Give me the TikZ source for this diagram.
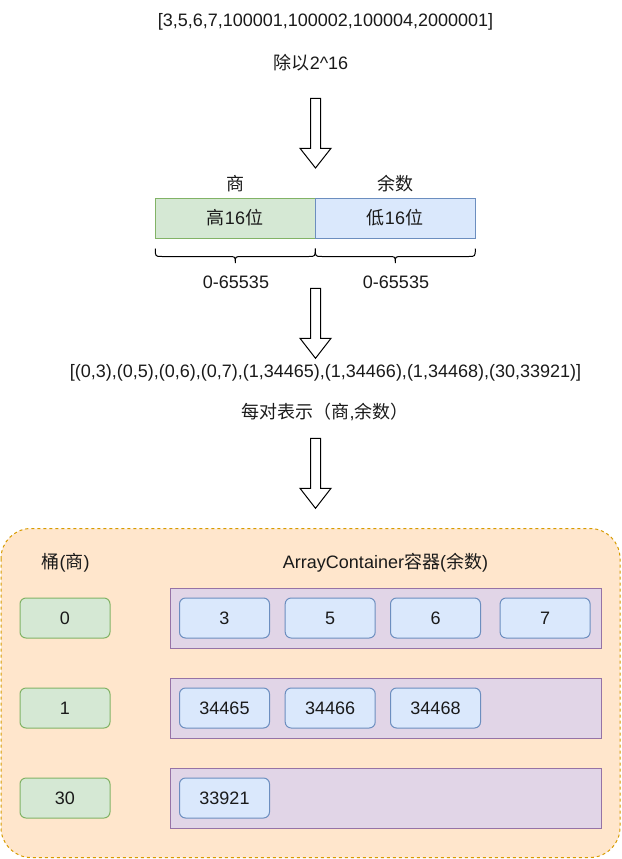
\documentclass[tikz,border=0pt]{standalone}
\usepackage{fontspec}
\setmainfont{Liberation Sans}
\newfontfamily\cjk{Noto Sans CJK SC}
\definecolor{gfill}{HTML}{D5E8D4}
\definecolor{gline}{HTML}{82B366}
\definecolor{bfill}{HTML}{DAE8FC}
\definecolor{bline}{HTML}{6C8EBF}
\definecolor{pfill}{HTML}{E1D5E7}
\definecolor{pline}{HTML}{9673A6}
\definecolor{ofill}{HTML}{FFE6CC}
\definecolor{oline}{HTML}{D79B00}
\definecolor{ink}{HTML}{1A1A1A}
\newcommand{\fsz}{\fontsize{18pt}{21.6pt}\selectfont}
\begin{document}
\begin{tikzpicture}[x=1pt,y=-1pt,
  txt/.style={font=\fsz, text=ink, inner sep=0pt},
  topbox/.style={txt, draw, line width=1pt, minimum width=160pt, minimum height=40pt},
  gbox/.style={txt, draw=gline, fill=gfill, line width=1pt, rounded corners=6pt, minimum width=90pt, minimum height=40pt},
  bbox/.style={txt, draw=bline, fill=bfill, line width=1pt, rounded corners=6pt, minimum width=90pt, minimum height=40pt},
  cont/.style={draw=pline, fill=pfill, line width=1pt, minimum width=431pt, minimum height=60pt, inner sep=0pt},
  blockarrow/.style={draw=black, fill=white, line width=1pt, line join=miter},
  bracepath/.style={draw=black, line width=1pt}
]
\useasboundingbox (0,0) rectangle (621,859);

% top texts
\node[txt] (list1) at (325.5,22) {[3,5,6,7,100001,100002,100004,2000001]};
\node[txt] (div) at (311,63) {{\cjk 除以}2\textasciicircum 16};

% arrow 1
\draw[blockarrow] (310.6,98.3) -- (320.6,98.3) -- (320.6,148.3) -- (331,148.3) -- (315.5,168) -- (300,148.3) -- (310.6,148.3) -- cycle;

% split box
\node[txt] (shang) at (235,183.5) {\cjk 商};
\node[txt] (yushu) at (395,183.5) {\cjk 余数};
\node[topbox, draw=gline, fill=gfill] (high) at (235,218) {{\cjk 高}16{\cjk 位}};
\node[topbox, draw=bline, fill=bfill] (low) at (395,218) {{\cjk 低}16{\cjk 位}};

% braces
\draw[bracepath] (155.3,248.5) .. controls (155.3,256.5) .. (162,256.5) -- (228.5,256.5) .. controls (235.3,256.5) .. (235.3,263) .. controls (235.3,256.5) .. (242,256.5) -- (308.5,256.5) .. controls (315.3,256.5) .. (315.3,248.5);
\draw[bracepath] (315.3,248.5) .. controls (315.3,256.5) .. (322,256.5) -- (388.5,256.5) .. controls (395.3,256.5) .. (395.3,263) .. controls (395.3,256.5) .. (402,256.5) -- (468.5,256.5) .. controls (475.3,256.5) .. (475.3,248.5);
\node[txt] (r1) at (236,282.5) {0-65535};
\node[txt] (r2) at (396,282.5) {0-65535};

% arrow 2
\draw[blockarrow] (310.6,288.3) -- (320.6,288.3) -- (320.6,338.3) -- (331,338.3) -- (315.5,358.3) -- (300,338.3) -- (310.6,338.3) -- cycle;

\node[txt] (list2) at (325.5,373) {[(0,3),(0,5),(0,6),(0,7),(1,34465),(1,34466),(1,34468),(30,33921)]};
\node[txt] (pair) at (325,412) {{\cjk 每对表示（商}{,}{\cjk 余数）}};

% arrow 3
\draw[blockarrow] (310.6,438.3) -- (320.6,438.3) -- (320.6,488.3) -- (331,488.3) -- (315.5,508.3) -- (300,488.3) -- (310.6,488.3) -- cycle;

% big container
\draw[draw=oline, fill=ofill, line width=1pt, dash pattern=on 3pt off 3pt, rounded corners=30pt] (1,528.5) rectangle (620,857.5);

\node[txt] (tong) at (65.5,563) {{\cjk 桶}({\cjk 商})};
\node[txt] (ac) at (385.5,563) {ArrayContainer{\cjk 容器}({\cjk 余数})};

% containers
\node[cont] (c0) at (385.5,618) {};
\node[cont] (c1) at (385.5,708) {};
\node[cont] (c30) at (385.5,798) {};

% buckets
\node[gbox] (g0) at (65,618) {0};
\node[gbox] (g1) at (65,708) {1};
\node[gbox] (g30) at (65,798) {30};

% values
\node[bbox] (v3) at (224.5,618) {3};
\node[bbox] (v5) at (330.2,618) {5};
\node[bbox] (v6) at (435.5,618) {6};
\node[bbox] (v7) at (545.1,618) {7};
\node[bbox] (v34465) at (224.5,708) {34465};
\node[bbox] (v34466) at (330.2,708) {34466};
\node[bbox] (v34468) at (435.5,708) {34468};
\node[bbox] (v33921) at (224.5,798) {33921};
\end{tikzpicture}
\end{document}
